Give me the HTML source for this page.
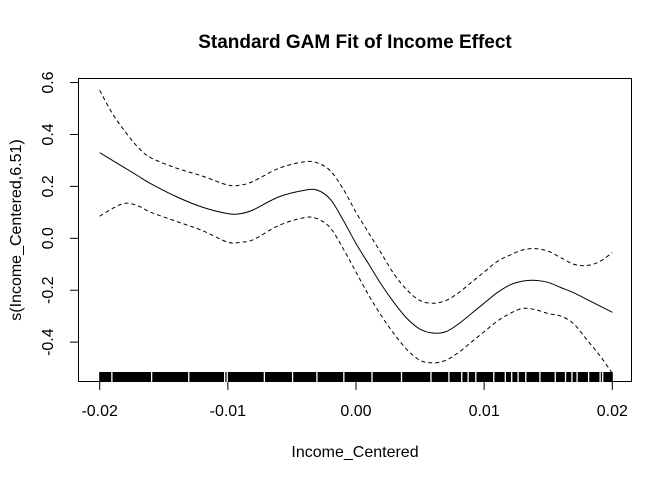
<!DOCTYPE html>
<html><head><meta charset="utf-8"><style>
body{margin:0;background:#fff}
svg text{font-family:"Liberation Sans",Arial,sans-serif;fill:#000}
</style></head><body>
<svg id="c" width="672" height="480">
<text x="355" y="48" text-anchor="middle" font-size="19" font-weight="bold">Standard GAM Fit of Income Effect</text>
<text x="355" y="457" text-anchor="middle" font-size="16">Income_Centered</text>
<text transform="translate(21,230) rotate(-90)" text-anchor="middle" font-size="16">s(Income_Centered,6.51)</text>
<rect x="78.5" y="78.5" width="553" height="303" fill="none" stroke="#000"/>
<g id="g"></g>
</svg>
<script>
const xVals=[-0.02,-0.019,-0.018,-0.017,-0.016,-0.014,-0.012,-0.01,-0.009,-0.008,-0.006,-0.004,-0.003,-0.002,-0.001,0,0.001,0.002,0.003,0.004,0.005,0.006,0.007,0.008,0.009,0.01,0.011,0.012,0.013,0.014,0.015,0.016,0.017,0.018,0.019,0.02];
const fitVals=[0.33,0.30,0.27,0.24,0.21,0.16,0.12,0.095,0.095,0.11,0.16,0.185,0.185,0.15,0.07,-0.02,-0.10,-0.18,-0.25,-0.31,-0.35,-0.365,-0.36,-0.33,-0.29,-0.25,-0.21,-0.18,-0.165,-0.162,-0.17,-0.19,-0.21,-0.235,-0.26,-0.285];
const upperVals=[0.57,0.48,0.41,0.35,0.31,0.27,0.24,0.205,0.205,0.22,0.27,0.295,0.29,0.26,0.19,0.10,0.02,-0.06,-0.14,-0.2,-0.24,-0.25,-0.24,-0.21,-0.17,-0.13,-0.09,-0.065,-0.045,-0.04,-0.05,-0.075,-0.1,-0.105,-0.09,-0.055];
const lowerVals=[0.085,0.115,0.135,0.125,0.10,0.065,0.03,-0.015,-0.015,-0.005,0.05,0.08,0.075,0.04,-0.04,-0.13,-0.22,-0.3,-0.37,-0.43,-0.47,-0.48,-0.47,-0.44,-0.40,-0.36,-0.32,-0.29,-0.27,-0.275,-0.29,-0.30,-0.33,-0.39,-0.45,-0.52];
const xTicks=[-0.02,-0.01,0,0.01,0.02];
const xTickLabels=["-0.02","-0.01","0.00","0.01","0.02"];
const yTicks=[-0.4,-0.2,0,0.2,0.4,0.6];
const yTickLabels=["-0.4","-0.2","0.0","0.2","0.4","0.6"];
const rugGaps=[-0.0191,-0.0160,-0.0131,-0.0103,-0.0101,-0.0072,-0.0050,-0.0031,-0.0010,0.0012,0.0035,0.0058,0.0072,0.0082,0.0087,0.0093,0.0107,0.0116,0.0121,0.0126,0.0132,0.0143,0.0155,0.0163,0.0168,0.0172,0.0181,0.0190,0.0192];
const X=v=>356+v*12815, Y=v=>238.3-v*259.6;
const NS="http://www.w3.org/2000/svg", g=document.getElementById('g');
function mk(t,a){const e=document.createElementNS(NS,t);for(const k in a)e.setAttribute(k,a[k]);g.appendChild(e);return e;}
function path(vals){const p=xVals.map((x,i)=>[X(x),Y(vals[i])]);let d="M"+p[0];
for(let i=0;i<p.length-1;i++){const a=p[i-1]||p[i],b=p[i],c=p[i+1],e=p[i+2]||c;
d+=` C${b[0]+(c[0]-a[0])/6},${b[1]+(c[1]-a[1])/6} ${c[0]-(e[0]-b[0])/6},${c[1]-(e[1]-b[1])/6} ${c[0]},${c[1]}`;}return d;}
xTicks.forEach((t,i)=>{
const l=mk('line',{x1:X(t),x2:X(t),y1:382,y2:390,stroke:'#000'});


const tx=mk('text',{x:X(t),y:416,'text-anchor':'middle','font-size':16});tx.textContent=xTickLabels[i];


});
yTicks.forEach((t,i)=>{
const l=mk('line',{x1:70,x2:78,y1:Y(t),y2:Y(t),stroke:'#000'});


const tx=mk('text',{transform:`translate(53,${Y(t)}) rotate(-90)`,'text-anchor':'middle','font-size':16});tx.textContent=yTickLabels[i];


});
const rug=mk('rect',{x:X(-0.02)-0.5,y:372,width:X(0.02)-X(-0.02)+1,height:10,fill:'#000'});


rugGaps.forEach(v=>{const r=mk('rect',{x:X(v),y:372,width:1.3,height:10,fill:'#fff'});

});
const f=mk('path',{d:path(fitVals),fill:'none',stroke:'#000','stroke-width':1});


const u=mk('path',{d:path(upperVals),fill:'none',stroke:'#000','stroke-width':1,'stroke-dasharray':'4,3'});


const lo=mk('path',{d:path(lowerVals),fill:'none',stroke:'#000','stroke-width':1,'stroke-dasharray':'4,3'});


</script>
</body></html>
